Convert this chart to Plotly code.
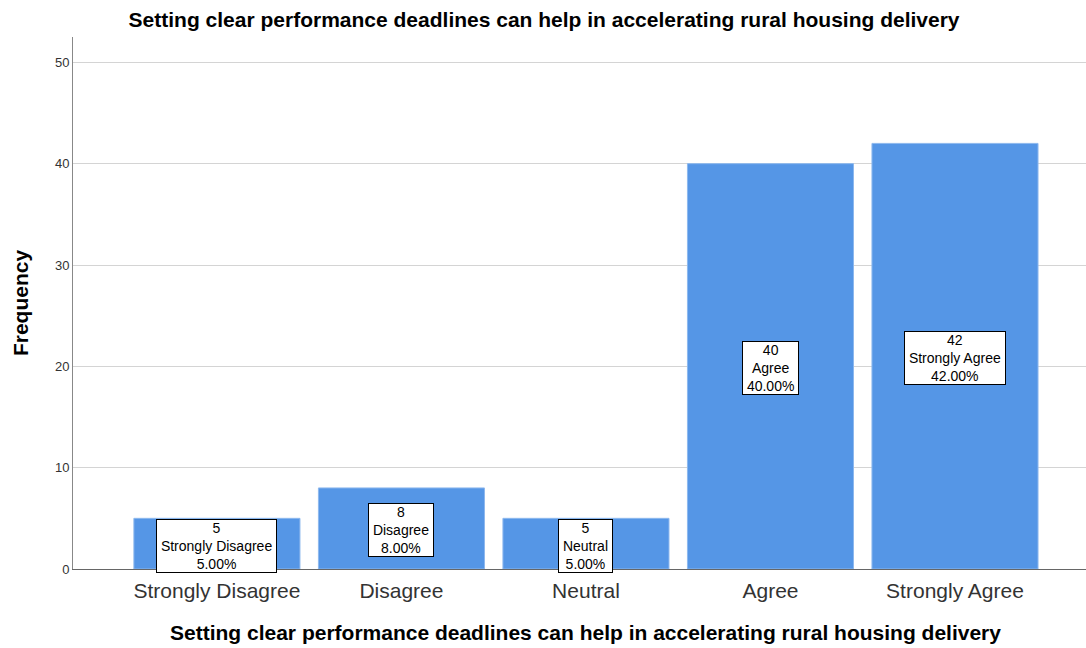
import plotly.graph_objects as go

categories = ["Strongly Disagree", "Disagree", "Neutral", "Agree", "Strongly Agree"]
frequencies = [5, 8, 5, 40, 42]
percents = ["5.00%", "8.00%", "5.00%", "40.00%", "42.00%"]
title_text = "Setting clear performance deadlines can help in accelerating rural housing delivery"

FONT = "Liberation Sans, Arial, sans-serif"
NB = "\u00a0"

fig = go.Figure()
fig.add_trace(go.Bar(
    x=categories, y=frequencies,
    marker=dict(color="#5596E6", line=dict(color="#8DB8EE", width=1)),
    width=0.9,
    hoverinfo="x+y",
))

for c, f, p in zip(categories, frequencies, percents):
    lines = [str(f), c, p]
    fig.add_annotation(
        x=c, y=f / 2, xref="x", yref="y", yshift=-2,
        text="<br>".join(NB + s + NB for s in lines),
        showarrow=False,
        font=dict(family=FONT, size=14, color="black"),
        bgcolor="white", bordercolor="black", borderwidth=1, borderpad=0,
        align="center",
    )

# x-axis title as annotation (slightly right of plot centre, as in the reference)
fig.add_annotation(
    x=0.506, y=-0.12, xref="paper", yref="paper",
    text=f"<b>{title_text}</b>", showarrow=False,
    xanchor="center", yanchor="middle",
    font=dict(family=FONT, size=21, color="black"),
)

fig.update_layout(
    width=1086, height=648,
    margin=dict(l=73, r=0, t=37, b=79),
    paper_bgcolor="white", plot_bgcolor="white",
    showlegend=False,
    title=dict(text=title_text, x=0.501, xanchor="center", y=0.969, yanchor="middle",
               font=dict(family=FONT, size=21, color="black", weight="bold")),
    font=dict(family=FONT),
)
fig.update_xaxes(
    range=[-0.78, 4.71],
    showline=True, linecolor="#666666", linewidth=1,
    showgrid=False, ticks="",
    tickfont=dict(size=21, color="#333333"),
    ticklabelstandoff=3,
)
fig.update_yaxes(
    range=[0, 52.5],
    tickvals=[0, 10, 20, 30, 40, 50],
    showline=True, linecolor="#888888", linewidth=1,
    showgrid=True, gridcolor="#D4D4D4", gridwidth=1,
    zeroline=False, ticks="",
    tickfont=dict(size=13, color="#333333"),
    title=dict(text="Frequency", font=dict(size=21, color="black", weight="bold"), standoff=20),
)

fig.write_html("out.html", config={"displayModeBar": False},
               post_script="document.body.style.margin='0';document.body.style.padding='0';")
